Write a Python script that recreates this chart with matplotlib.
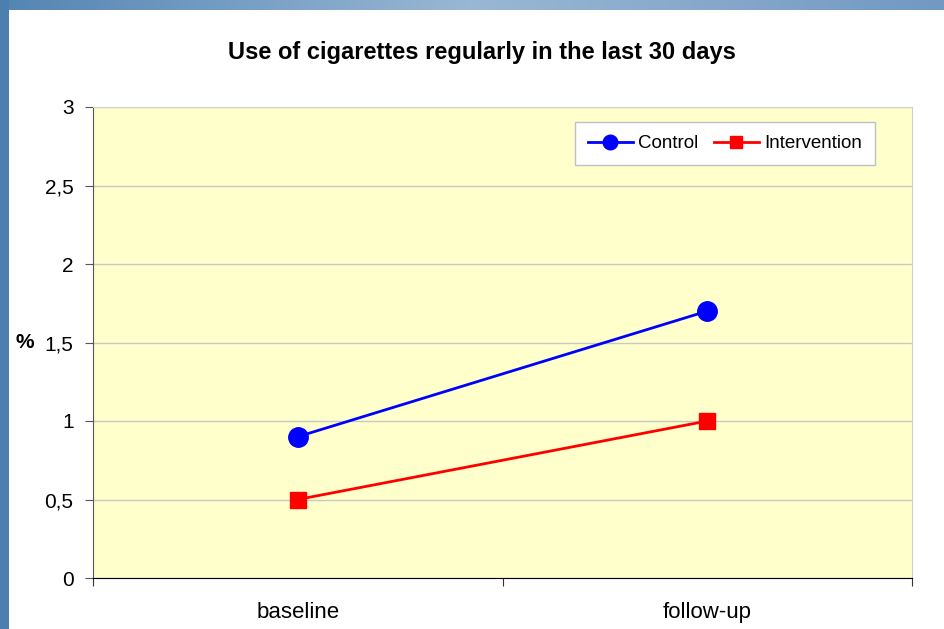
import matplotlib
matplotlib.use("Agg")
import matplotlib.pyplot as plt
import numpy as np
from matplotlib.patches import Rectangle

plt.rcParams['font.family'] = ['Liberation Sans', 'DejaVu Sans']

categories = ["baseline", "follow-up"]
control = [0.9, 1.7]
intervention = [0.5, 1.0]
y_ticks = [0, 0.5, 1, 1.5, 2, 2.5, 3]
y_tick_labels = ["0", "0,5", "1", "1,5", "2", "2,5", "3"]

W, H = 944, 629
fig = plt.figure(figsize=(W / 100, H / 100), dpi=100)
fig.patch.set_facecolor("white")

# slide frame: blue gradient band on top, darker band on the left
bg = fig.add_axes([0, 0, 1, 1], zorder=-10)
bg.axis("off")
grad = np.linspace(0, 1, 300)
top_cols = np.zeros((1, 300, 3))
c1 = np.array([0.33, 0.52, 0.70])
c2 = np.array([0.60, 0.72, 0.83])
c3 = np.array([0.45, 0.60, 0.76])
for i, g in enumerate(grad):
    if g < 0.5:
        top_cols[0, i] = c1 + (c2 - c1) * (g / 0.5)
    else:
        top_cols[0, i] = c2 + (c3 - c2) * ((g - 0.5) / 0.5)
bg.imshow(top_cols, extent=[0, W, 10, 0], aspect="auto")
bg.add_patch(Rectangle((0, 0), 9, H, color="#4a7fae", lw=0))
bg.add_patch(Rectangle((9, 10), W - 9, H - 10, color="white", lw=0))
bg.set_xlim(0, W)
bg.set_ylim(H, 0)

ax = fig.add_axes([93 / W, 1 - 578 / H, (912 - 93) / W, (578 - 107) / H])
ax.set_facecolor("#FFFFCC")
x = np.arange(len(categories))

ax.plot(x, control, color="#0000FF", lw=2, marker="o", markersize=14,
        label="Control", zorder=3)
ax.plot(x, intervention, color="#FF0000", lw=2, marker="s", markersize=12,
        label="Intervention", zorder=3)

ax.set_xlim(-0.5, len(categories) - 0.5)
ax.set_ylim(0, 3)
ax.set_yticks(y_ticks)
ax.set_yticklabels(y_tick_labels, fontsize=15)
ax.yaxis.grid(True, color="#c8c8c8", lw=1)
ax.set_axisbelow(True)

ax.set_xticks(np.arange(-0.5, len(categories), 1.0))
ax.set_xticklabels([])
ax.set_xticks(x, minor=True)
ax.set_xticklabels(categories, minor=True, fontsize=16)
ax.tick_params(axis="x", which="minor", length=0, pad=17)
ax.tick_params(axis="x", which="major", length=6, direction="out", color="#333333")
ax.tick_params(axis="y", length=6, direction="out", color="#555555", pad=8)

for s in ["top", "right"]:
    ax.spines[s].set_color("#d0d0d0")
ax.spines["left"].set_color("#555555")
ax.spines["bottom"].set_color("#000000")

ax.set_ylabel("%", rotation=0, fontsize=15, fontweight="bold", va="center")
ax.yaxis.set_label_coords(-0.083, 0.5)

fig.text(482 / W, 1 - 52 / H, "Use of cigarettes regularly in the last 30 days",
         ha="center", va="center", fontsize=17, fontweight="bold")

leg = ax.legend(loc="upper right", bbox_to_anchor=(0.955, 0.968), ncol=2,
                fontsize=13.5, frameon=True, fancybox=False, handlelength=2.4,
                markerscale=0.75, columnspacing=0.8, handletextpad=0.3,
                borderpad=0.7, borderaxespad=0)
leg.get_frame().set_edgecolor("#c0c0c0")
leg.get_frame().set_facecolor("white")
leg.get_frame().set_alpha(1)

fig.savefig("out.png", dpi=100)
